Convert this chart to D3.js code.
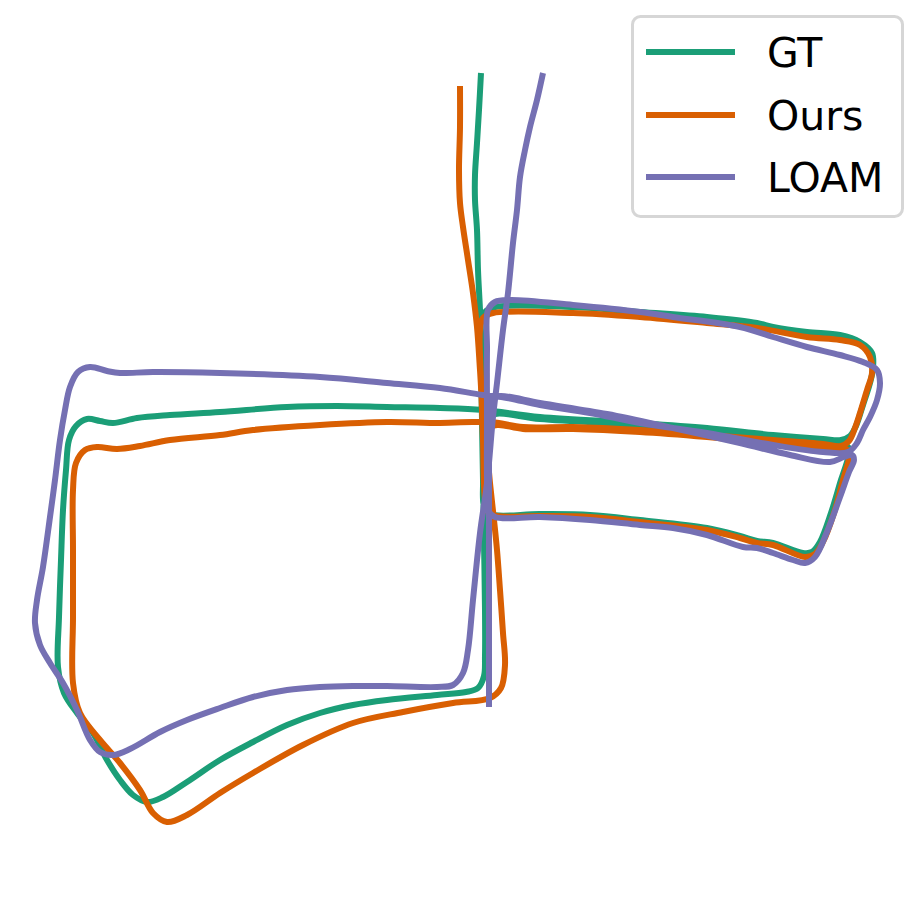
<!DOCTYPE html>
<html>
<head>
<meta charset="utf-8">
<script src="https://cdn.jsdelivr.net/npm/d3@7"></script>
<style>
  html, body { margin: 0; padding: 0; background: #ffffff; }
  svg { display: block; }
</style>
</head>
<body>
<div id="chart"></div>
<script>
// ---- data (trajectory positions, metres) ----
const seriesNames = ["GT", "Ours", "LOAM"];
const seriesColors = ["#1b9e77", "#d95f02", "#7570b3"];

const gtPath = [
  [0.5,173.5],[-0.5,155],[-1.5,138.5],[-2.5,122.5],[-2.5,110],[-1.5,95],[-1,75],[0,55],[1,30],[1,5],
  [1.5,-25],[2,-60],[2.5,-95],[2.5,-117.5],[2,-128],[-1,-134],[-7,-136],[-21.5,-137.5],[-46.5,-140],
  [-63.5,-142.5],[-80,-146.5],[-96.5,-152.5],[-113.5,-161],[-130,-170],[-146.5,-181],[-158.5,-188.5],
  [-166.5,-191],[-173.5,-187.5],[-180,-180],[-186.5,-170],[-193.5,-156.5],[-201.5,-146.5],[-208,-136.5],
  [-211,-123.5],[-210.5,-98.5],[-209.5,-70],[-208.5,-45],[-207,-25],[-205.5,-10],[-202,-3],[-196.5,0.5],
  [-190,-0.5],[-183.5,-1.5],[-171.5,1],[-155,2.5],[-130,4],[-96.5,6.5],[-71.5,7],[-46.5,6.5],[-20,6],
  [1.5,5],[30,1.5],[80,-1.5],[113.5,-4],[146.5,-7.5],[171.5,-9.5],[180.5,-10],[185,-8],[188,-3],
  [191.5,7.5],[195,18.5],[196.5,26],[196,33.5],[190,39],[180,42.5],[163.5,44],[146.5,46.5],[138.5,48.5],
  [113.5,51.5],[80,54],[46.5,56.5],[7.5,56.5],[2.5,54],[0.5,49],[0.5,30],[1,0],[1.5,-30],[2,-43],
  [5,-47],[30,-47],[55,-47.5],[80,-50],[113.5,-54],[130,-58],[138.5,-60.5],[146.5,-61.5],[161.5,-66.5],
  [166,-66],[170,-61],[175.5,-46.5],[180.5,-30],[184,-19],[184.5,-14],[180,-11.5],[146.5,-8.5],
  [113.5,-5],[80,-2.5],[30,0.5],[7.5,3],[3,0],[2.5,-25]
];

const oursPath = [
  [-10,167],[-10,146.5],[-10.5,125],[-10,108.5],[-8.5,96.5],[-6,80],[-3.5,63.5],[-1.5,46.5],[0,25],
  [1.5,1.5],[3.5,-15],[5,-31.5],[7,-50],[8.5,-65],[10,-85],[11.5,-106.5],[12.5,-122.5],[10.5,-134],
  [5,-139],[-13.5,-141.5],[-38.5,-146],[-63.5,-151.5],[-88.5,-162.5],[-113.5,-176.5],[-130,-186.5],
  [-146.5,-197.5],[-156.5,-201],[-163.5,-196.5],[-170,-185],[-180,-171.5],[-190,-160],[-200,-146.5],
  [-203.5,-131.5],[-203.5,-98.5],[-203.5,-65],[-203.5,-35],[-202,-21.5],[-197.5,-15],[-191.5,-13.5],
  [-181.5,-14.5],[-170,-13],[-155,-10],[-130,-7.5],[-113.5,-5],[-80,-2.5],[-46.5,-1],[-20,-1.5],[5,-1],
  [21.5,-3.5],[46.5,-3.5],[80,-5],[113.5,-7.5],[146.5,-10],[171.5,-12],[180.5,-13],[184.5,-10.5],[187.5,-4],
  [190,3.5],[193.5,15],[196,23.5],[195,31.5],[190,37.5],[180,40],[163.5,41.5],[138.5,46],[113.5,48.5],
  [80,51.5],[46.5,53.5],[6.5,53.5],[1.5,51],[0,45],[0.5,20],[1.5,-10],[2.5,-40],[4,-46],[8.5,-48],
  [30,-48],[55,-48.5],[80,-51],[113.5,-55],[130,-59],[138.5,-61.5],[146.5,-62.5],[162.5,-68.5],
  [167.5,-67],[171.5,-61],[177,-46.5],[181.5,-30],[184.5,-19],[184,-15],[179,-14.5],[146.5,-11.5],
  [113.5,-8.5],[80,-6],[46.5,-4.5],[21.5,-4.5],[8.5,-2.5],[3.5,-5],[3.5,-25]
];

const loamPath = [
  [31.5,173.5],[28.5,160],[25,146.5],[22.5,135],[20,121.5],[18.5,105],[16.5,88.5],[14,63.5],[11.5,45],
  [8.5,18.5],[6.5,1.5],[3.5,-31.5],[0,-56.5],[-3.5,-90],[-6,-115],[-8.5,-126.5],[-13.5,-132.5],
  [-21.5,-133.5],[-46.5,-133],[-63.5,-133],[-80,-133.5],[-96.5,-135],[-113.5,-138.5],[-130,-144],
  [-146.5,-150],[-160,-156],[-175,-164.5],[-183.5,-167.5],[-190,-166],[-195,-160],[-201.5,-145],
  [-208.5,-131.5],[-215,-121.5],[-220,-112.5],[-222.5,-101.5],[-221.5,-90],[-218.5,-73.5],[-215,-48.5],
  [-212.5,-30],[-210,-10],[-207.5,5],[-205,16.5],[-201,24],[-195,26.5],[-186.5,24.5],[-180,23.5],
  [-163.5,24],[-130,23.5],[-80,21.5],[-46.5,18.5],[-20,16],[1.5,12.5],[13.5,11],[30,7.5],[55,3.5],
  [80,-1.5],[113.5,-6.5],[146.5,-12.5],[171.5,-16],[184,-16],[188.5,-11.5],[191.5,-5],[195,1.5],[198.5,10],
  [200,18.5],[198.5,25],[191.5,29],[180,32.5],[163.5,36.5],[146.5,41.5],[130,46.5],[96.5,51.5],[80,54],
  [46.5,57.5],[15,60],[7.5,59],[4,55],[3.5,35],[3.5,0],[3.5,-30],[4,-45],[7.5,-48.5],[30,-48.5],
  [55,-50],[80,-52.5],[96.5,-54],[113.5,-57.5],[131.5,-63.5],[138.5,-64],[146.5,-66.5],[156.5,-70],
  [162.5,-71.5],[167.5,-68.5],[173.5,-56],[180,-38.5],[184.5,-26],[187,-20],[186,-17.5],[182,-18.5],[175,-21],
  [155,-17.5],[130,-11.5],[96.5,-4],[63.5,3],[30,8.5],[10,12],[5.5,10.5],[4.5,5],[4.5,-15],[4.5,-50],
  [4.5,-90],[4.5,-120],[4.5,-143.5]
];

const seriesData = [gtPath, oursPath, loamPath];

// ---- drawing ----
const W = 921, H = 899;
const svg = d3.select("#chart").append("svg")
  .attr("width", W).attr("height", H);

const x = d3.scaleLinear().domain([-240, 220]).range([0, 920]);
const y = d3.scaleLinear().domain([210, -240]).range([0, 900]);

const line = d3.line()
  .x(d => x(d[0]))
  .y(d => y(d[1]))
  .curve(d3.curveCatmullRom.alpha(0.5));

const plot = svg.append("g");
seriesData.forEach((pts, i) => {
  plot.append("path")
    .datum(pts)
    .attr("d", line)
    .attr("fill", "none")
    .attr("stroke", seriesColors[i])
    .attr("stroke-width", 6)
    .attr("stroke-linejoin", "round")
    .attr("stroke-linecap", "butt");
});

// ---- legend ----
const lg = svg.append("g");
lg.append("rect")
  .attr("x", 632.5).attr("y", 16.5)
  .attr("width", 270).attr("height", 200)
  .attr("rx", 8).attr("ry", 8)
  .attr("fill", "#ffffff").attr("fill-opacity", 0.8)
  .attr("stroke", "#d6d6d6").attr("stroke-width", 3);

const rowY = [52, 115, 177];
seriesNames.forEach((name, i) => {
  lg.append("line")
    .attr("x1", 646).attr("x2", 735)
    .attr("y1", rowY[i]).attr("y2", rowY[i])
    .attr("stroke", seriesColors[i])
    .attr("stroke-width", 6);
  lg.append("text")
    .attr("x", 767).attr("y", rowY[i] + 15)
    .attr("font-family", "DejaVu Sans, sans-serif")
    .attr("font-size", 41)
    .attr("fill", "#000000")
    .text(name);
});
</script>
</body>
</html>
